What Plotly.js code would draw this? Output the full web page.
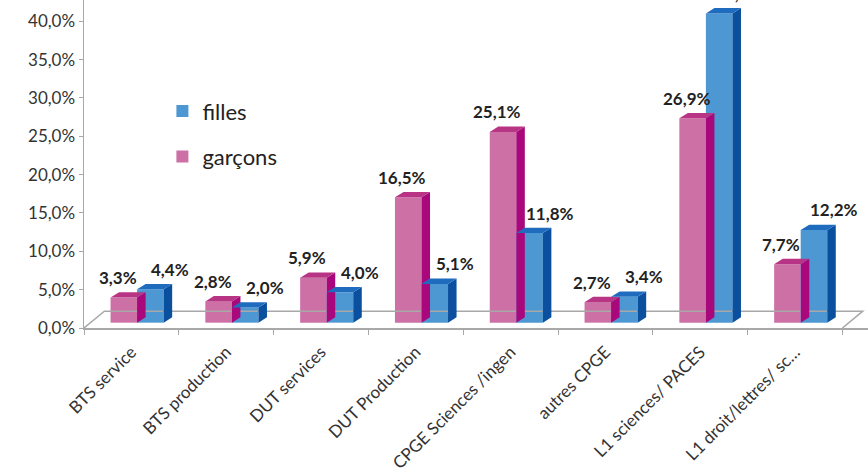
<!DOCTYPE html>
<html>
<head>
<meta charset="utf-8">
<script src="https://cdn.plot.ly/plotly-3.0.1.min.js"></script>
<style>html,body{margin:0;padding:0;background:#fff}#chart{width:868px;height:468px}</style>
</head>
<body>
<div id="chart"></div>
<script>
const categories = ["BTS service","BTS production","DUT services","DUT Production","CPGE Sciences /ingen","autres CPGE","L1 sciences/ PACES","L1 droit/lettres/ sc…"];
const garcons = [3.3, 2.8, 5.9, 16.5, 25.1, 2.7, 26.9, 7.7];
const filles  = [4.4, 2.0, 4.0, 5.1, 11.8, 3.4, 40.7, 12.2];
const yTickVals = [0,5,10,15,20,25,30,35,40];

// style constants
const FONT = "Lato, 'Open Sans', sans-serif";
const PINK = {front:"#cc70a6", top:"#b83484", side:"#a8087c"};
const BLUE = {front:"#4d98d3", top:"#1f6cbf", side:"#0b4f9f"};
const W = 0.28, OFF_P = -0.22, OFF_B = 0.06; // bar width / offsets (category units)
const DX = 0.09, DY = 0.7;                    // pseudo-3D depth (x2 units, y2 units)
const FLOOR_DX = 0.215, FLOOR_DY = 2.2;
const XR = [-0.5, 7.5 + 0.27];

const fmt = v => v.toFixed(1).replace('.', ',') + '%';

const traces = [
  {type:'bar', name:'garçons', x:categories, y:garcons, xaxis:'x', yaxis:'y2',
   width:W, offset:OFF_P, marker:{color:PINK.front, line:{width:0}},
   legendgroup:'g', legendrank:2, hoverinfo:'none'},
  {type:'bar', name:'filles', x:categories, y:filles, xaxis:'x', yaxis:'y2',
   width:W, offset:OFF_B, marker:{color:BLUE.front, line:{width:0}},
   legendgroup:'f', legendrank:1, hoverinfo:'none'}
];

const shapes = [];
const floorLine = {color:'#a8a8a8', width:1.5};
shapes.push({type:'path', xref:'x2', yref:'y', layer:'below', line:floorLine,
  path:`M${XR[0]},0 L${XR[0]+FLOOR_DX},${FLOOR_DY} L${7.5+FLOOR_DX},${FLOOR_DY} L7.5,0`});

function faces(vals, off, col) {
  vals.forEach((v, i) => {
    const xl = i + off, xr = i + off + W;
    shapes.push({type:'path', xref:'x2', yref:'y2', layer:'below', line:{width:0}, fillcolor:col.side,
      path:`M${xr},0 L${xr+DX},${DY} L${xr+DX},${v+DY} L${xr},${v} Z`});
    shapes.push({type:'path', xref:'x2', yref:'y2', layer:'below', line:{width:0}, fillcolor:col.top,
      path:`M${xl},${v} L${xl+DX},${v+DY} L${xr+DX},${v+DY} L${xr},${v} Z`});
  });
}
faces(garcons, OFF_P, PINK);
faces(filles, OFF_B, BLUE);

const LBL = {family:FONT, size:17, color:'#222', weight:'bold'};
const annotations = [];
garcons.forEach((v, i) => annotations.push({xref:'x2', yref:'y2', x:i + OFF_P + W/2, y:v,
  text:fmt(v), showarrow:false, yanchor:'middle', yshift:20, xshift:-6, font:LBL}));
filles.forEach((v, i) => annotations.push({xref:'x2', yref:'y2', x:i + OFF_B + W/2, y:v,
  text:fmt(v), showarrow:false, yanchor:'middle', yshift:20, xshift:20, font:LBL}));

const layout = {
  width:868, height:468,
  margin:{l:84, r:0, t:0, b:140},
  paper_bgcolor:'#fff', plot_bgcolor:'rgba(0,0,0,0)',
  font:{family:FONT, color:'#333'},
  barmode:'overlay',
  showlegend:true,
  legend:{x:0.1, xanchor:'left', y:0.725, yanchor:'top', tracegroupgap:14,
    font:{family:FONT, size:22, color:'#222'}, bgcolor:'rgba(0,0,0,0)'},
  xaxis:{type:'category', range:XR, tickson:'boundaries', ticks:'outside', ticklen:5,
    tickcolor:'#a8a8a8', showline:true, linecolor:'#a8a8a8', linewidth:1.5, showgrid:false,
    tickangle:-45, ticklabelstandoff:6, tickfont:{family:FONT, size:17, color:'#333'}, zeroline:false},
  xaxis2:{overlaying:'x', range:XR, visible:false, showgrid:false, zeroline:false},
  yaxis:{range:[0, 42.78], tickmode:'array', tickvals:yTickVals, ticktext:yTickVals.map(fmt),
    ticks:'outside', ticklen:4, tickcolor:'#a8a8a8', showline:true, linecolor:'#a8a8a8', linewidth:1.5,
    showgrid:false, zeroline:false, tickfont:{family:FONT, size:17, color:'#333'}},
  yaxis2:{overlaying:'y', range:[-0.70, 42.46], visible:false, showgrid:false, zeroline:false},
  shapes:shapes,
  annotations:annotations
};

Plotly.newPlot('chart', traces, layout, {staticPlot:true, displayModeBar:false});
</script>
</body>
</html>
